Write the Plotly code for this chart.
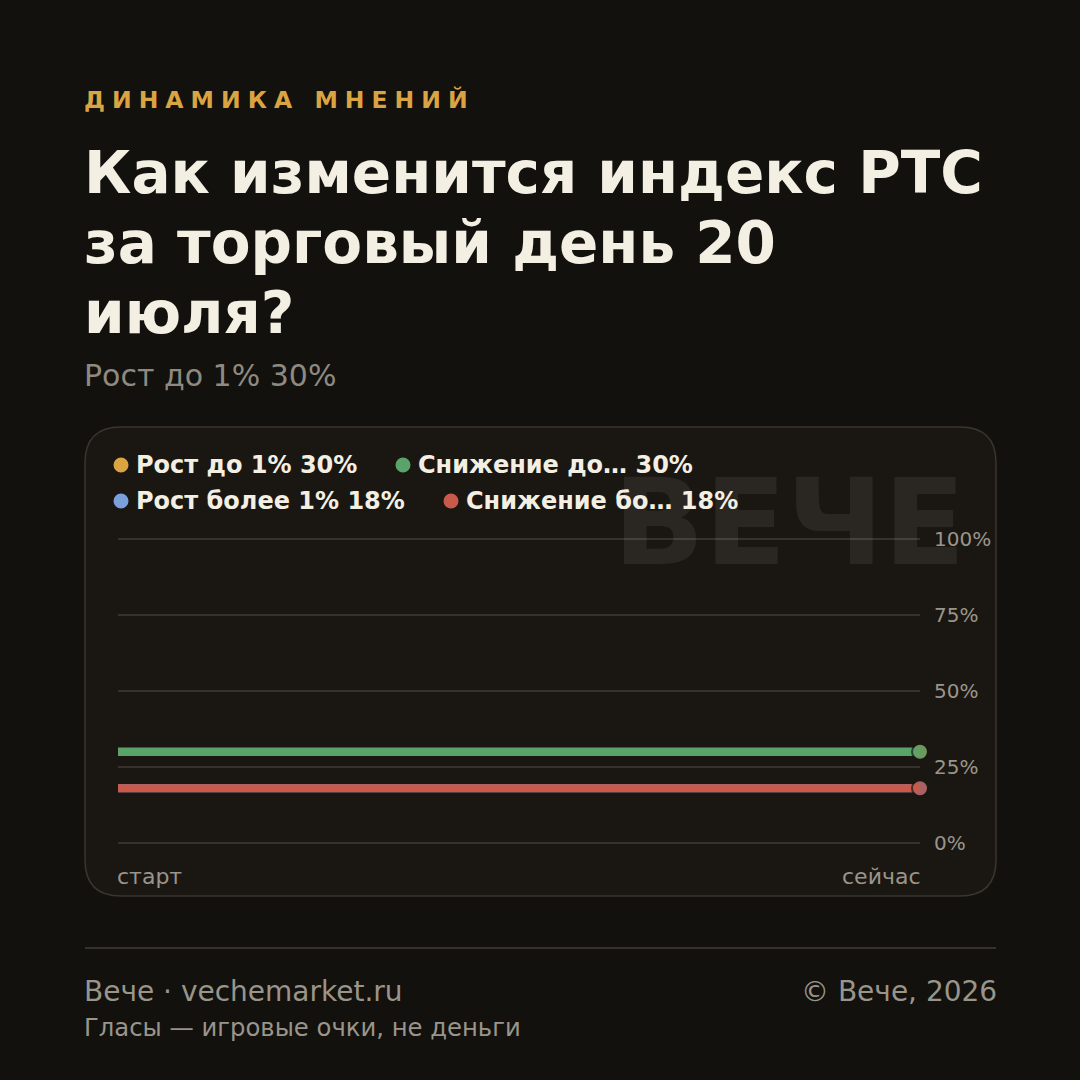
import plotly.graph_objects as go

# ---- data ----
options = ["Рост до 1%", "Снижение до 1%", "Рост более 1%", "Снижение более 1%"]
shares = [30, 30, 18, 18]
colors = ["#d9a441", "#5aa46c", "#7b9fdb", "#c95a4b"]
x_points = [0, 1]
x_labels = ["старт", "сейчас"]
y_ticks = [0, 25, 50, 75, 100]
eyebrow = "ДИНАМИКА МНЕНИЙ"
title_lines = ["Как изменится индекс РТС", "за торговый день 20", "июля?"]
footer_left = "Вече · vechemarket.ru"
footer_note = "Гласы — игровые очки, не деньги"
footer_right = "© Вече, 2026"
watermark = "ВЕЧЕ"

W = H = 1080
BG = "#12110e"
CARD = "#1a1713"
CREAM = "#f3efe3"
GRAY = "#9a958a"
FONT = "DejaVu Sans"


def px(x):
    return x / W


def py(y):
    return 1 - y / H


def short(s, n=13):
    return s if len(s) <= n else s[:11] + "…"


fig = go.Figure()
for name, v, c in zip(options, shares, colors):
    fig.add_trace(go.Scatter(
        x=x_points, y=[v] * len(x_points), mode="lines+markers", name=name,
        line=dict(color=c, width=8),
        marker=dict(size=[0, 16], color=c, line=dict(color=CARD, width=[0, 2])),
        cliponaxis=False, showlegend=False, hoverinfo="skip"))

shapes = []
# rounded card
L, R, T, B, r = 85, 996, 427, 896, 36
path = (f"M {px(L + r)},{py(T)} L {px(R - r)},{py(T)} Q {px(R)},{py(T)} {px(R)},{py(T + r)} "
        f"L {px(R)},{py(B - r)} Q {px(R)},{py(B)} {px(R - r)},{py(B)} "
        f"L {px(L + r)},{py(B)} Q {px(L)},{py(B)} {px(L)},{py(B - r)} "
        f"L {px(L)},{py(T + r)} Q {px(L)},{py(T)} {px(L + r)},{py(T)} Z")
shapes.append(dict(type="path", xref="paper", yref="paper", path=path,
                   fillcolor=CARD, line=dict(color="#3a352d", width=1.5), layer="below"))
# footer rule
shapes.append(dict(type="line", xref="paper", yref="paper", x0=px(85), x1=px(996),
                   y0=py(948), y1=py(948), line=dict(color="#35312b", width=2)))

annotations = []


def ann(text, x, y, size, color, xanchor="left", bold=False, **kw):
    shift = -3 if xanchor == "left" else (3 if xanchor == "right" else 0)
    annotations.append(dict(
        text=f"<b>{text}</b>" if bold else text, x=px(x), y=py(y), xref="paper", yref="paper",
        xanchor=xanchor, yanchor="middle", showarrow=False, xshift=shift,
        font=dict(family=FONT, size=size, color=color), **kw))


# watermark
ann(watermark, 789, 522, 120, "rgba(255,245,225,0.07)", xanchor="center", bold=True)

sep = "\u2009\u200a"
eyebrow_spaced = (sep + " " + sep).join(sep.join(w) for w in eyebrow.split(" "))
ann(eyebrow_spaced, 85, 100, 23.5, "#d9a441", bold=True)
for i, line in enumerate(title_lines):
    ann(line, 85, 173 + 70 * i, 58, CREAM, bold=True)
ann(f"{options[0]} {shares[0]}%", 85, 376, 30, "#8f8a80")

# legend (two rows, flowing)
leg_pos = [(121, 465), (403, 465), (121, 501), (451, 501)]
for (lx, ly), name, v, c in zip(leg_pos, options, shares, colors):
    shapes.append(dict(type="circle", xref="paper", yref="paper",
                       x0=px(lx - 7.5), x1=px(lx + 7.5), y0=py(ly - 7.5), y1=py(ly + 7.5),
                       fillcolor=c, line=dict(width=0)))
    ann(f"{short(name)} {v}%", lx + 16, ly, 24, CREAM, bold=True)

# x labels
for xv, lab, anc, sh in [(x_points[0], x_labels[0], "left", -3), (x_points[1], x_labels[1], "right", 3)]:
    annotations.append(dict(text=lab, x=xv, y=py(876), xref="x", yref="paper",
                            xanchor=anc, yanchor="middle", showarrow=False, xshift=sh,
                            font=dict(family=FONT, size=22, color=GRAY)))

# footer
ann(footer_left, 85, 991, 28, GRAY)
ann(footer_note, 85, 1027, 24.3, GRAY)
ann(footer_right, 996, 991, 28, GRAY, xanchor="right")

ppu = (843 - 539) / 100.0
fig.update_layout(
    width=W, height=H, margin=dict(l=0, r=0, t=0, b=0, autoexpand=False),
    paper_bgcolor=BG, plot_bgcolor="rgba(0,0,0,0)",
    shapes=shapes, annotations=annotations, showlegend=False,
    xaxis=dict(domain=[px(118), px(920)], range=[0, 1], showgrid=False, zeroline=False,
               showticklabels=False, fixedrange=True, automargin=False),
    yaxis=dict(domain=[py(843 + ppu), py(539 - ppu)], range=[-1, 101], side="right",
               tickvals=y_ticks, ticktext=[f"{t}%" for t in y_ticks],
               showgrid=True, gridcolor="#37332c", gridwidth=2, zeroline=False,
               ticklabelstandoff=13, tickfont=dict(family=FONT, size=20, color=GRAY),
               fixedrange=True, automargin=False),
)

fig.write_html("out.html")
